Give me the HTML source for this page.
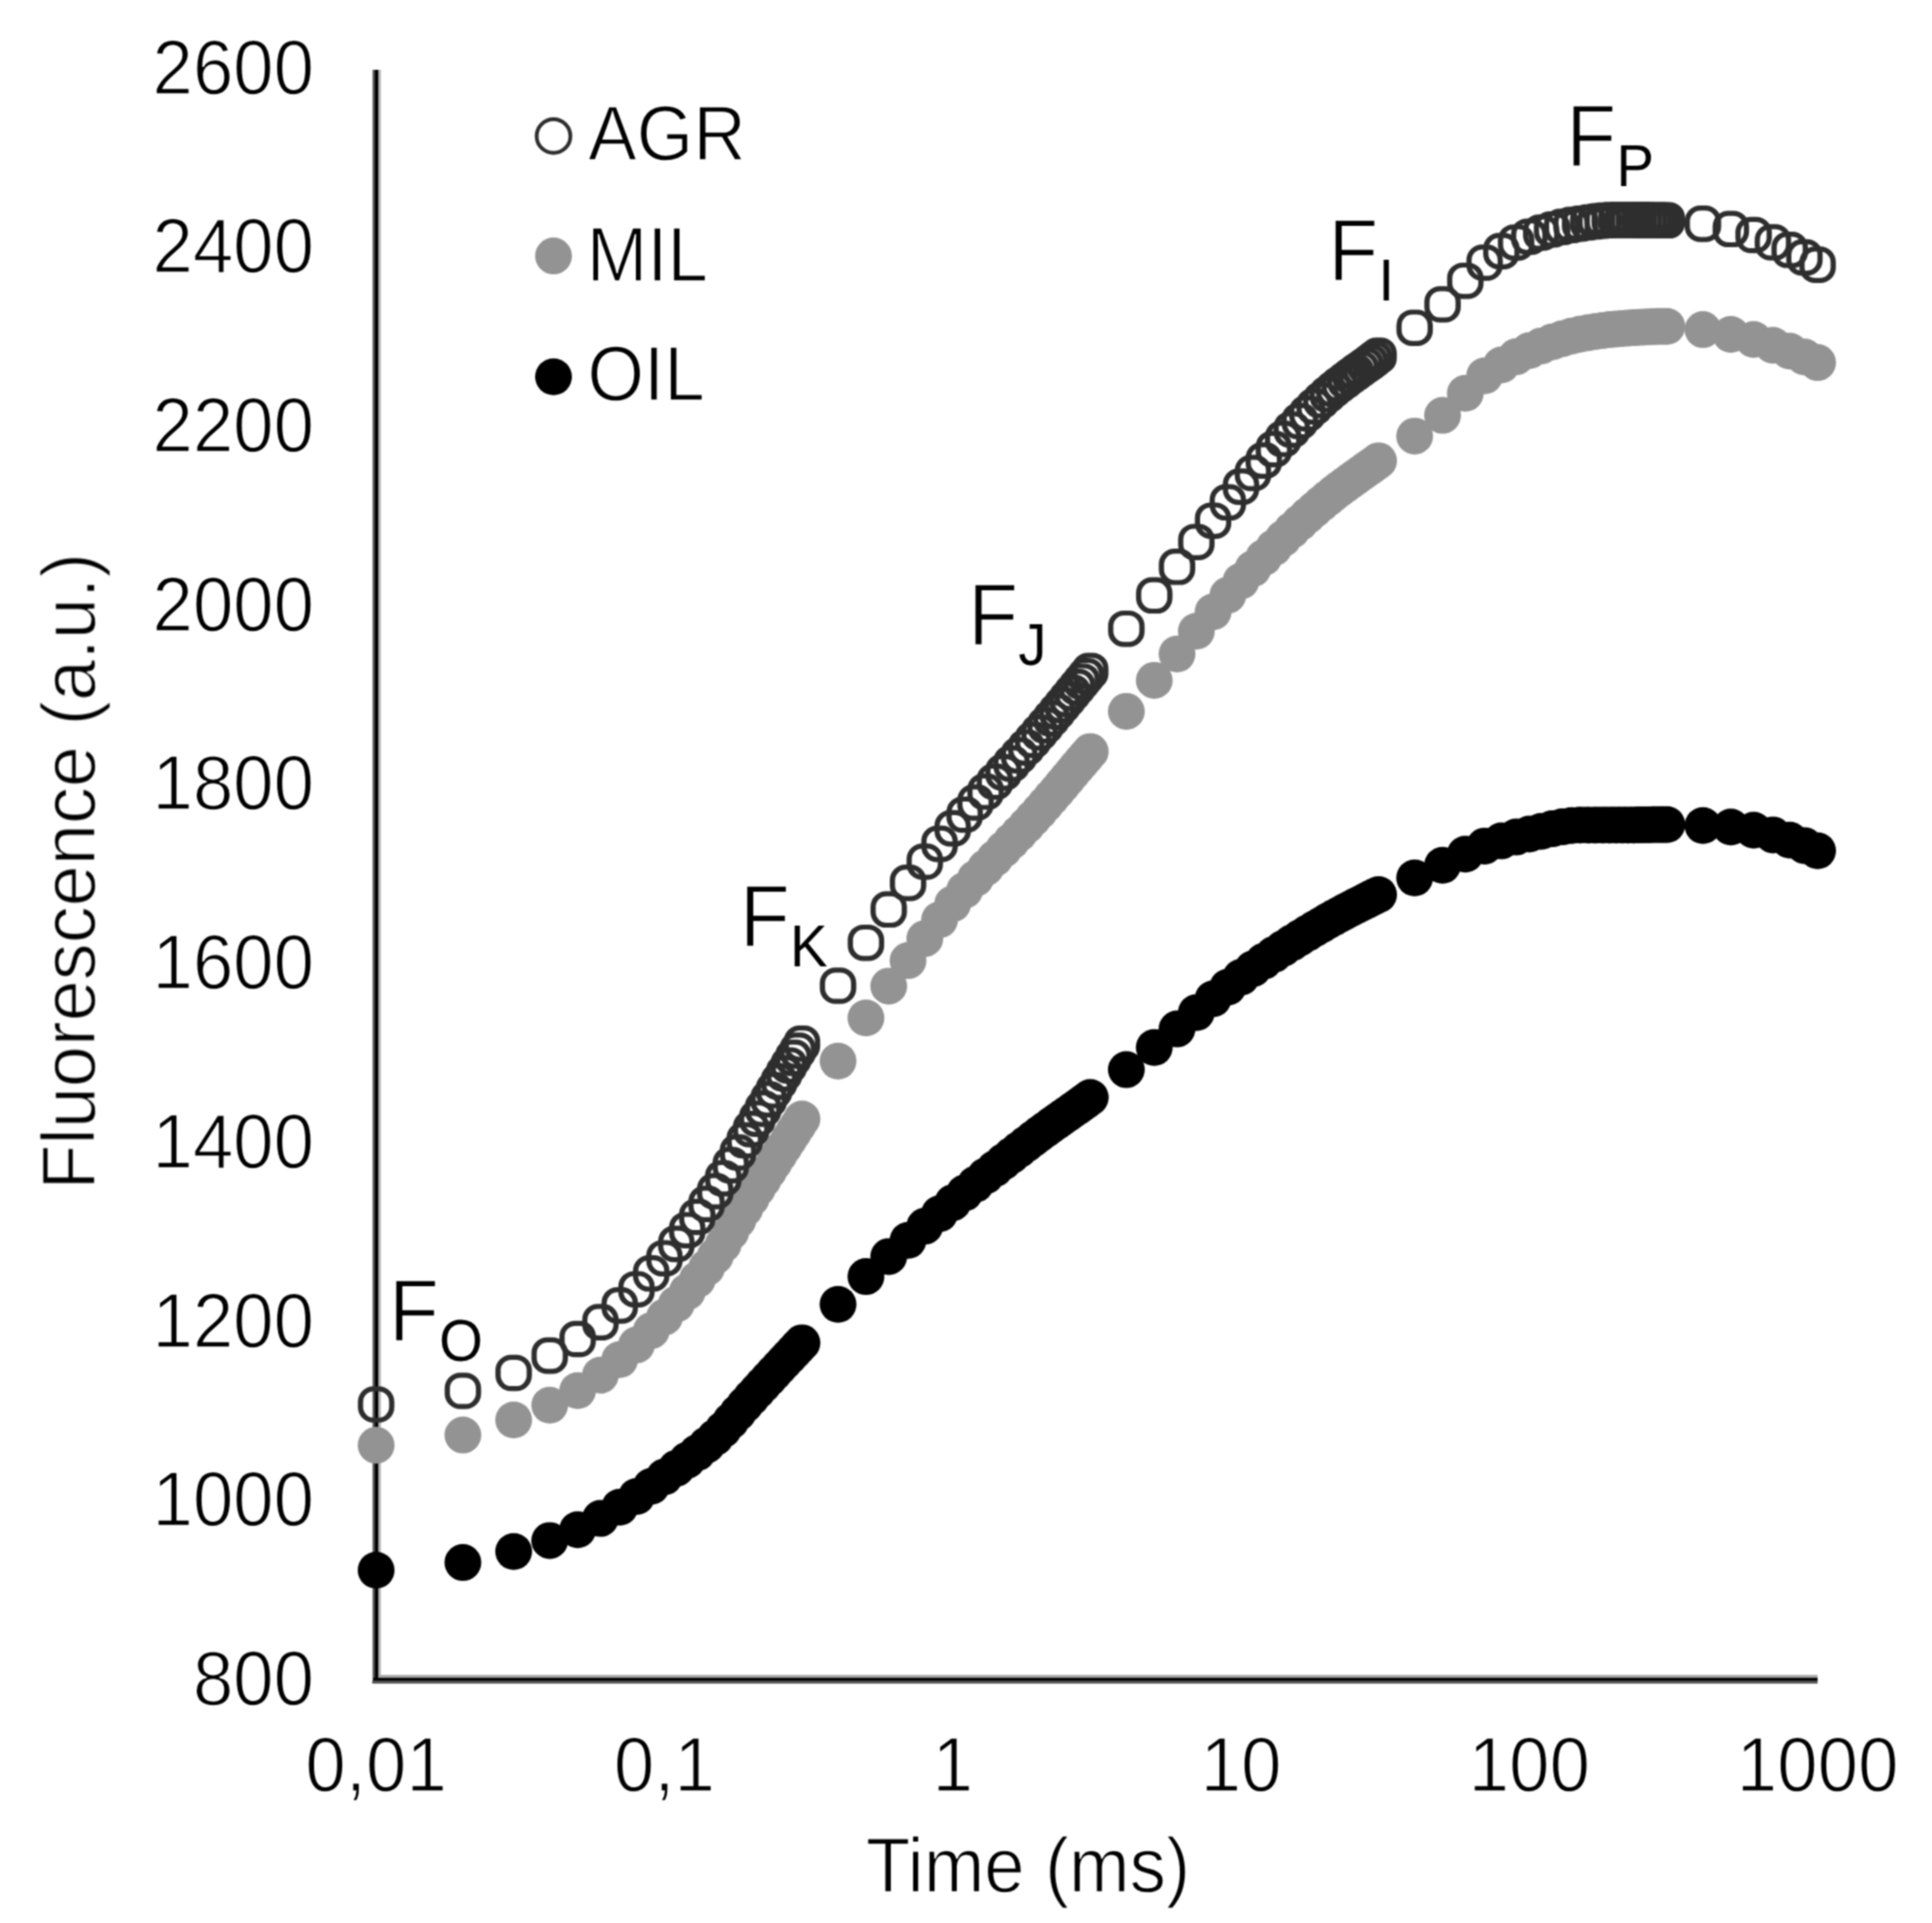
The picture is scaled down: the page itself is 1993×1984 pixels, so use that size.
<!DOCTYPE html>
<html><head><meta charset="utf-8"><title>OJIP fluorescence</title>
<style>html,body{margin:0;padding:0;background:#fff;}svg{display:block;}</style>
</head><body>
<svg xmlns="http://www.w3.org/2000/svg" width="1993" height="1984" viewBox="0 0 1993 1984">
<defs><filter id="soft" x="0" y="0" width="1993" height="1984" filterUnits="userSpaceOnUse" color-interpolation-filters="sRGB"><feConvolveMatrix order="3" kernelMatrix="1 2 1 2 4 2 1 2 1" divisor="16" edgeMode="duplicate"/></filter></defs>
<rect width="1993" height="1984" fill="#ffffff"/>
<g filter="url(#soft)">
<g font-family="'Liberation Sans', sans-serif" font-size="75" fill="#000" stroke="#fff" stroke-width="1.3">
<text transform="translate(324.0,1759.0) scale(1,1.06)" text-anchor="end">800</text>
<text transform="translate(324.0,1574.3) scale(1,1.06)" text-anchor="end">1000</text>
<text transform="translate(324.0,1389.6) scale(1,1.06)" text-anchor="end">1200</text>
<text transform="translate(324.0,1204.8) scale(1,1.06)" text-anchor="end">1400</text>
<text transform="translate(324.0,1020.1) scale(1,1.06)" text-anchor="end">1600</text>
<text transform="translate(324.0,835.4) scale(1,1.06)" text-anchor="end">1800</text>
<text transform="translate(324.0,650.7) scale(1,1.06)" text-anchor="end">2000</text>
<text transform="translate(324.0,466.0) scale(1,1.06)" text-anchor="end">2200</text>
<text transform="translate(324.0,281.2) scale(1,1.06)" text-anchor="end">2400</text>
<text transform="translate(324.0,96.5) scale(1,1.06)" text-anchor="end">2600</text>
<text transform="translate(388.0,1848.0) scale(1,1.06)" text-anchor="middle">0,01</text>
<text transform="translate(685.4,1848.0) scale(1,1.06)" text-anchor="middle">0,1</text>
<text transform="translate(982.8,1848.0) scale(1,1.06)" text-anchor="middle">1</text>
<text transform="translate(1280.2,1848.0) scale(1,1.06)" text-anchor="middle">10</text>
<text transform="translate(1577.6,1848.0) scale(1,1.06)" text-anchor="middle">100</text>
<text transform="translate(1875.0,1848.0) scale(1,1.06)" text-anchor="middle">1000</text>
<text transform="translate(1060.5,1952.0) scale(1,1.06)" text-anchor="middle">Time (ms)</text>
<text transform="translate(98,899) rotate(-90) scale(1.017,1.045)" text-anchor="middle">Fluorescence (a.u.)</text>
</g>
<g font-family="'Liberation Sans', sans-serif" font-size="75" fill="#000" stroke="#fff" stroke-width="1.3">
<text transform="translate(606.8,165.0) scale(1,1.06)">AGR</text>
<text transform="translate(605.2,290.0) scale(1,1.06)">MIL</text>
<text transform="translate(606.0,413.0) scale(1,1.06)">OIL</text>
</g>
<g font-family="'Liberation Sans', sans-serif" fill="#000" stroke="#fff" stroke-width="1.6">
<text transform="translate(401,1382.5) scale(1,1.06)" font-size="85">F<tspan font-size="58" dy="20" stroke="none">O</tspan></text>
<text transform="translate(763,976) scale(1,1.06)" font-size="85">F<tspan font-size="58" dy="20" stroke="none">K</tspan></text>
<text transform="translate(998.5,665) scale(1,1.06)" font-size="85">F<tspan font-size="58" dy="20" stroke="none">J</tspan></text>
<text transform="translate(1370,288.6) scale(1,1.06)" font-size="85">F<tspan font-size="58" dy="20" stroke="none">I</tspan></text>
<text transform="translate(1615.6,171.2) scale(1,1.06)" font-size="85">F<tspan font-size="58" dy="20" stroke="none">P</tspan></text>
</g>
<g shape-rendering="crispEdges">
<rect x="384" y="72" width="1" height="1665" fill="#9a9a9a"/>
<rect x="385" y="72" width="2" height="1665" fill="#444"/>
<rect x="387" y="72" width="3" height="1665" fill="#000"/>
<rect x="390" y="72" width="1" height="1659" fill="#888"/>
<rect x="391" y="72" width="2" height="1656" fill="#bbb"/>
<rect x="390.5" y="1728" width="1484.5" height="3" fill="#a8a8a8"/>
<rect x="385" y="1731" width="1490" height="3" fill="#050505"/>
<rect x="384" y="1734" width="1491" height="3" fill="#555"/>
</g>

<g fill="#939393">
<circle cx="388.0" cy="1491.1" r="19"/>
<circle cx="477.5" cy="1480.6" r="19"/>
<circle cx="529.9" cy="1465.0" r="19"/>
<circle cx="567.1" cy="1449.8" r="19"/>
<circle cx="595.9" cy="1434.8" r="19"/>
<circle cx="619.4" cy="1418.8" r="19"/>
<circle cx="639.3" cy="1402.8" r="19"/>
<circle cx="656.6" cy="1387.6" r="19"/>
<circle cx="671.8" cy="1372.9" r="19"/>
<circle cx="685.4" cy="1358.9" r="19"/>
<circle cx="697.7" cy="1345.5" r="19"/>
<circle cx="708.9" cy="1332.7" r="19"/>
<circle cx="719.3" cy="1320.2" r="19"/>
<circle cx="728.9" cy="1308.0" r="19"/>
<circle cx="737.8" cy="1296.0" r="19"/>
<circle cx="746.1" cy="1283.7" r="19"/>
<circle cx="753.9" cy="1271.1" r="19"/>
<circle cx="761.3" cy="1258.8" r="19"/>
<circle cx="768.3" cy="1247.1" r="19"/>
<circle cx="774.9" cy="1236.4" r="19"/>
<circle cx="781.2" cy="1226.4" r="19"/>
<circle cx="787.2" cy="1217.0" r="19"/>
<circle cx="793.0" cy="1208.0" r="19"/>
<circle cx="798.5" cy="1199.5" r="19"/>
<circle cx="803.7" cy="1191.3" r="19"/>
<circle cx="808.8" cy="1183.4" r="19"/>
<circle cx="813.7" cy="1175.8" r="19"/>
<circle cx="818.4" cy="1168.5" r="19"/>
<circle cx="822.9" cy="1161.4" r="19"/>
<circle cx="827.3" cy="1154.5" r="19"/>
<circle cx="864.5" cy="1094.7" r="19"/>
<circle cx="893.3" cy="1050.2" r="19"/>
<circle cx="916.8" cy="1017.4" r="19"/>
<circle cx="936.7" cy="991.1" r="19"/>
<circle cx="954.0" cy="968.4" r="19"/>
<circle cx="969.2" cy="949.0" r="19"/>
<circle cx="982.8" cy="932.5" r="19"/>
<circle cx="995.1" cy="918.5" r="19"/>
<circle cx="1006.3" cy="906.3" r="19"/>
<circle cx="1016.7" cy="895.4" r="19"/>
<circle cx="1026.3" cy="885.6" r="19"/>
<circle cx="1035.2" cy="876.4" r="19"/>
<circle cx="1043.5" cy="867.8" r="19"/>
<circle cx="1051.3" cy="859.7" r="19"/>
<circle cx="1058.7" cy="851.9" r="19"/>
<circle cx="1065.7" cy="844.3" r="19"/>
<circle cx="1072.3" cy="837.0" r="19"/>
<circle cx="1078.6" cy="829.8" r="19"/>
<circle cx="1084.6" cy="822.8" r="19"/>
<circle cx="1090.4" cy="816.1" r="19"/>
<circle cx="1095.9" cy="809.5" r="19"/>
<circle cx="1101.1" cy="803.2" r="19"/>
<circle cx="1106.2" cy="797.1" r="19"/>
<circle cx="1111.1" cy="791.3" r="19"/>
<circle cx="1115.8" cy="785.8" r="19"/>
<circle cx="1120.3" cy="780.5" r="19"/>
<circle cx="1124.7" cy="775.4" r="19"/>
<circle cx="1161.9" cy="733.9" r="19"/>
<circle cx="1190.7" cy="701.9" r="19"/>
<circle cx="1214.2" cy="674.7" r="19"/>
<circle cx="1234.1" cy="651.2" r="19"/>
<circle cx="1251.4" cy="631.2" r="19"/>
<circle cx="1266.6" cy="614.1" r="19"/>
<circle cx="1280.2" cy="599.5" r="19"/>
<circle cx="1292.5" cy="586.8" r="19"/>
<circle cx="1303.7" cy="575.3" r="19"/>
<circle cx="1314.1" cy="565.0" r="19"/>
<circle cx="1323.7" cy="555.6" r="19"/>
<circle cx="1332.6" cy="547.0" r="19"/>
<circle cx="1340.9" cy="539.2" r="19"/>
<circle cx="1348.7" cy="532.1" r="19"/>
<circle cx="1356.1" cy="525.6" r="19"/>
<circle cx="1363.1" cy="519.5" r="19"/>
<circle cx="1369.7" cy="514.0" r="19"/>
<circle cx="1376.0" cy="508.9" r="19"/>
<circle cx="1382.0" cy="504.3" r="19"/>
<circle cx="1387.8" cy="500.0" r="19"/>
<circle cx="1393.3" cy="496.0" r="19"/>
<circle cx="1398.5" cy="492.2" r="19"/>
<circle cx="1403.6" cy="488.6" r="19"/>
<circle cx="1408.5" cy="485.1" r="19"/>
<circle cx="1413.2" cy="481.8" r="19"/>
<circle cx="1417.7" cy="478.6" r="19"/>
<circle cx="1422.1" cy="475.4" r="19"/>
<circle cx="1459.3" cy="449.9" r="19"/>
<circle cx="1488.1" cy="428.6" r="19"/>
<circle cx="1511.6" cy="405.7" r="19"/>
<circle cx="1531.5" cy="387.8" r="19"/>
<circle cx="1548.8" cy="376.5" r="19"/>
<circle cx="1564.0" cy="368.1" r="19"/>
<circle cx="1577.6" cy="361.8" r="19"/>
<circle cx="1589.9" cy="356.9" r="19"/>
<circle cx="1601.1" cy="352.8" r="19"/>
<circle cx="1611.5" cy="349.5" r="19"/>
<circle cx="1621.1" cy="346.8" r="19"/>
<circle cx="1630.0" cy="344.8" r="19"/>
<circle cx="1638.3" cy="343.3" r="19"/>
<circle cx="1646.1" cy="342.0" r="19"/>
<circle cx="1653.5" cy="340.9" r="19"/>
<circle cx="1660.5" cy="340.1" r="19"/>
<circle cx="1667.1" cy="339.5" r="19"/>
<circle cx="1673.4" cy="339.0" r="19"/>
<circle cx="1679.4" cy="338.5" r="19"/>
<circle cx="1685.2" cy="338.1" r="19"/>
<circle cx="1690.7" cy="337.7" r="19"/>
<circle cx="1695.9" cy="337.4" r="19"/>
<circle cx="1701.0" cy="337.2" r="19"/>
<circle cx="1705.9" cy="337.0" r="19"/>
<circle cx="1710.6" cy="336.8" r="19"/>
<circle cx="1715.1" cy="336.8" r="19"/>
<circle cx="1719.5" cy="336.7" r="19"/>
<circle cx="1756.7" cy="340.1" r="19"/>
<circle cx="1785.5" cy="345.0" r="19"/>
<circle cx="1809.0" cy="350.3" r="19"/>
<circle cx="1828.9" cy="356.2" r="19"/>
<circle cx="1846.2" cy="362.3" r="19"/>
<circle cx="1861.4" cy="368.3" r="19"/>
<circle cx="1875.0" cy="374.1" r="19"/>
</g>
<g fill="#000">
<circle cx="388.0" cy="1620.0" r="19"/>
<circle cx="477.5" cy="1612.1" r="19"/>
<circle cx="529.9" cy="1600.7" r="19"/>
<circle cx="567.1" cy="1589.4" r="19"/>
<circle cx="595.9" cy="1578.3" r="19"/>
<circle cx="619.4" cy="1566.6" r="19"/>
<circle cx="639.3" cy="1555.0" r="19"/>
<circle cx="656.6" cy="1544.0" r="19"/>
<circle cx="671.8" cy="1533.5" r="19"/>
<circle cx="685.4" cy="1523.7" r="19"/>
<circle cx="697.7" cy="1514.9" r="19"/>
<circle cx="708.9" cy="1506.6" r="19"/>
<circle cx="719.3" cy="1498.7" r="19"/>
<circle cx="728.9" cy="1490.9" r="19"/>
<circle cx="737.8" cy="1483.0" r="19"/>
<circle cx="746.1" cy="1474.7" r="19"/>
<circle cx="753.9" cy="1466.0" r="19"/>
<circle cx="761.3" cy="1457.5" r="19"/>
<circle cx="768.3" cy="1449.4" r="19"/>
<circle cx="774.9" cy="1442.0" r="19"/>
<circle cx="781.2" cy="1435.1" r="19"/>
<circle cx="787.2" cy="1428.5" r="19"/>
<circle cx="793.0" cy="1422.3" r="19"/>
<circle cx="798.5" cy="1416.3" r="19"/>
<circle cx="803.7" cy="1410.6" r="19"/>
<circle cx="808.8" cy="1405.1" r="19"/>
<circle cx="813.7" cy="1399.9" r="19"/>
<circle cx="818.4" cy="1394.9" r="19"/>
<circle cx="822.9" cy="1390.0" r="19"/>
<circle cx="827.3" cy="1385.4" r="19"/>
<circle cx="864.5" cy="1345.8" r="19"/>
<circle cx="893.3" cy="1317.1" r="19"/>
<circle cx="916.8" cy="1296.4" r="19"/>
<circle cx="936.7" cy="1279.8" r="19"/>
<circle cx="954.0" cy="1265.1" r="19"/>
<circle cx="969.2" cy="1252.2" r="19"/>
<circle cx="982.8" cy="1240.9" r="19"/>
<circle cx="995.1" cy="1230.8" r="19"/>
<circle cx="1006.3" cy="1221.7" r="19"/>
<circle cx="1016.7" cy="1213.3" r="19"/>
<circle cx="1026.3" cy="1205.7" r="19"/>
<circle cx="1035.2" cy="1198.6" r="19"/>
<circle cx="1043.5" cy="1192.1" r="19"/>
<circle cx="1051.3" cy="1186.0" r="19"/>
<circle cx="1058.7" cy="1180.3" r="19"/>
<circle cx="1065.7" cy="1174.9" r="19"/>
<circle cx="1072.3" cy="1169.9" r="19"/>
<circle cx="1078.6" cy="1165.3" r="19"/>
<circle cx="1084.6" cy="1160.9" r="19"/>
<circle cx="1090.4" cy="1156.8" r="19"/>
<circle cx="1095.9" cy="1152.9" r="19"/>
<circle cx="1101.1" cy="1149.2" r="19"/>
<circle cx="1106.2" cy="1145.6" r="19"/>
<circle cx="1111.1" cy="1142.2" r="19"/>
<circle cx="1115.8" cy="1138.8" r="19"/>
<circle cx="1120.3" cy="1135.5" r="19"/>
<circle cx="1124.7" cy="1132.2" r="19"/>
<circle cx="1161.9" cy="1103.6" r="19"/>
<circle cx="1190.7" cy="1080.8" r="19"/>
<circle cx="1214.2" cy="1061.6" r="19"/>
<circle cx="1234.1" cy="1044.8" r="19"/>
<circle cx="1251.4" cy="1030.5" r="19"/>
<circle cx="1266.6" cy="1018.5" r="19"/>
<circle cx="1280.2" cy="1008.3" r="19"/>
<circle cx="1292.5" cy="999.5" r="19"/>
<circle cx="1303.7" cy="991.8" r="19"/>
<circle cx="1314.1" cy="984.8" r="19"/>
<circle cx="1323.7" cy="978.5" r="19"/>
<circle cx="1332.6" cy="972.8" r="19"/>
<circle cx="1340.9" cy="967.6" r="19"/>
<circle cx="1348.7" cy="962.7" r="19"/>
<circle cx="1356.1" cy="958.3" r="19"/>
<circle cx="1363.1" cy="954.2" r="19"/>
<circle cx="1369.7" cy="950.3" r="19"/>
<circle cx="1376.0" cy="946.8" r="19"/>
<circle cx="1382.0" cy="943.5" r="19"/>
<circle cx="1387.8" cy="940.4" r="19"/>
<circle cx="1393.3" cy="937.5" r="19"/>
<circle cx="1398.5" cy="934.8" r="19"/>
<circle cx="1403.6" cy="932.2" r="19"/>
<circle cx="1408.5" cy="929.7" r="19"/>
<circle cx="1413.2" cy="927.4" r="19"/>
<circle cx="1417.7" cy="925.1" r="19"/>
<circle cx="1422.1" cy="923.0" r="19"/>
<circle cx="1459.3" cy="905.7" r="19"/>
<circle cx="1488.1" cy="892.7" r="19"/>
<circle cx="1511.6" cy="881.3" r="19"/>
<circle cx="1531.5" cy="872.9" r="19"/>
<circle cx="1548.8" cy="867.6" r="19"/>
<circle cx="1564.0" cy="863.6" r="19"/>
<circle cx="1577.6" cy="860.5" r="19"/>
<circle cx="1589.9" cy="857.7" r="19"/>
<circle cx="1601.1" cy="855.1" r="19"/>
<circle cx="1611.5" cy="853.1" r="19"/>
<circle cx="1621.1" cy="851.8" r="19"/>
<circle cx="1630.0" cy="851.3" r="19"/>
<circle cx="1638.3" cy="851.3" r="19"/>
<circle cx="1646.1" cy="851.3" r="19"/>
<circle cx="1653.5" cy="851.3" r="19"/>
<circle cx="1660.5" cy="851.3" r="19"/>
<circle cx="1667.1" cy="851.3" r="19"/>
<circle cx="1673.4" cy="851.3" r="19"/>
<circle cx="1679.4" cy="851.3" r="19"/>
<circle cx="1685.2" cy="851.2" r="19"/>
<circle cx="1690.7" cy="851.1" r="19"/>
<circle cx="1695.9" cy="851.0" r="19"/>
<circle cx="1701.0" cy="850.9" r="19"/>
<circle cx="1705.9" cy="850.8" r="19"/>
<circle cx="1710.6" cy="850.8" r="19"/>
<circle cx="1715.1" cy="850.7" r="19"/>
<circle cx="1719.5" cy="850.7" r="19"/>
<circle cx="1756.7" cy="851.7" r="19"/>
<circle cx="1785.5" cy="853.3" r="19"/>
<circle cx="1809.0" cy="856.5" r="19"/>
<circle cx="1828.9" cy="861.4" r="19"/>
<circle cx="1846.2" cy="866.8" r="19"/>
<circle cx="1861.4" cy="872.4" r="19"/>
<circle cx="1875.0" cy="877.8" r="19"/>
</g>
<defs><path id="ring" d="M-2.8000000000000007,-18.8H2.8000000000000007A16.0,16.0 0 0 1 18.8,-2.8000000000000007V2.8000000000000007A16.0,16.0 0 0 1 2.8000000000000007,18.8H-2.8000000000000007A16.0,16.0 0 0 1 -18.8,2.8000000000000007V-2.8000000000000007A16.0,16.0 0 0 1 -2.8000000000000007,-18.8ZM-2.4000000000000004,-13.6H2.4000000000000004A11.0,11.0 0 0 1 13.4,-2.5999999999999996V2.5999999999999996A11.0,11.0 0 0 1 2.4000000000000004,13.6H-2.4000000000000004A11.0,11.0 0 0 1 -13.4,2.5999999999999996V-2.5999999999999996A11.0,11.0 0 0 1 -2.4000000000000004,-13.6Z" fill="#2e2e2e" fill-rule="evenodd"/></defs>
<g>
<use href="#ring" x="388.0" y="1449.0"/>
<use href="#ring" x="477.5" y="1435.0"/>
<use href="#ring" x="529.9" y="1416.5"/>
<use href="#ring" x="567.1" y="1398.6"/>
<use href="#ring" x="595.9" y="1381.5"/>
<use href="#ring" x="619.4" y="1364.1"/>
<use href="#ring" x="639.3" y="1346.9"/>
<use href="#ring" x="656.6" y="1330.2"/>
<use href="#ring" x="671.8" y="1313.8"/>
<use href="#ring" x="685.4" y="1298.2"/>
<use href="#ring" x="697.7" y="1283.4"/>
<use href="#ring" x="708.9" y="1269.2"/>
<use href="#ring" x="719.3" y="1255.5"/>
<use href="#ring" x="728.9" y="1242.1"/>
<use href="#ring" x="737.8" y="1229.0"/>
<use href="#ring" x="746.1" y="1215.7"/>
<use href="#ring" x="753.9" y="1202.1"/>
<use href="#ring" x="761.3" y="1189.0"/>
<use href="#ring" x="768.3" y="1176.5"/>
<use href="#ring" x="774.9" y="1164.9"/>
<use href="#ring" x="781.2" y="1154.2"/>
<use href="#ring" x="787.2" y="1143.9"/>
<use href="#ring" x="793.0" y="1134.2"/>
<use href="#ring" x="798.5" y="1124.8"/>
<use href="#ring" x="803.7" y="1115.9"/>
<use href="#ring" x="808.8" y="1107.4"/>
<use href="#ring" x="813.7" y="1099.2"/>
<use href="#ring" x="818.4" y="1091.4"/>
<use href="#ring" x="822.9" y="1084.0"/>
<use href="#ring" x="827.3" y="1076.8"/>
<use href="#ring" x="864.5" y="1017.0"/>
<use href="#ring" x="893.3" y="972.7"/>
<use href="#ring" x="916.8" y="938.3"/>
<use href="#ring" x="936.7" y="910.9"/>
<use href="#ring" x="954.0" y="889.0"/>
<use href="#ring" x="969.2" y="870.6"/>
<use href="#ring" x="982.8" y="854.6"/>
<use href="#ring" x="995.1" y="840.5"/>
<use href="#ring" x="1006.3" y="828.0"/>
<use href="#ring" x="1016.7" y="816.8"/>
<use href="#ring" x="1026.3" y="806.5"/>
<use href="#ring" x="1035.2" y="796.9"/>
<use href="#ring" x="1043.5" y="787.9"/>
<use href="#ring" x="1051.3" y="779.3"/>
<use href="#ring" x="1058.7" y="771.2"/>
<use href="#ring" x="1065.7" y="763.3"/>
<use href="#ring" x="1072.3" y="755.7"/>
<use href="#ring" x="1078.6" y="748.3"/>
<use href="#ring" x="1084.6" y="741.2"/>
<use href="#ring" x="1090.4" y="734.2"/>
<use href="#ring" x="1095.9" y="727.5"/>
<use href="#ring" x="1101.1" y="721.1"/>
<use href="#ring" x="1106.2" y="714.9"/>
<use href="#ring" x="1111.1" y="708.9"/>
<use href="#ring" x="1115.8" y="703.2"/>
<use href="#ring" x="1120.3" y="697.7"/>
<use href="#ring" x="1124.7" y="692.4"/>
<use href="#ring" x="1161.9" y="648.7"/>
<use href="#ring" x="1190.7" y="614.3"/>
<use href="#ring" x="1214.2" y="584.8"/>
<use href="#ring" x="1234.1" y="559.2"/>
<use href="#ring" x="1251.4" y="537.2"/>
<use href="#ring" x="1266.6" y="518.3"/>
<use href="#ring" x="1280.2" y="502.1"/>
<use href="#ring" x="1292.5" y="488.0"/>
<use href="#ring" x="1303.7" y="475.1"/>
<use href="#ring" x="1314.1" y="463.4"/>
<use href="#ring" x="1323.7" y="452.8"/>
<use href="#ring" x="1332.6" y="443.2"/>
<use href="#ring" x="1340.9" y="434.5"/>
<use href="#ring" x="1348.7" y="426.5"/>
<use href="#ring" x="1356.1" y="419.3"/>
<use href="#ring" x="1363.1" y="412.8"/>
<use href="#ring" x="1369.7" y="406.8"/>
<use href="#ring" x="1376.0" y="401.5"/>
<use href="#ring" x="1382.0" y="396.7"/>
<use href="#ring" x="1387.8" y="392.3"/>
<use href="#ring" x="1393.3" y="388.2"/>
<use href="#ring" x="1398.5" y="384.4"/>
<use href="#ring" x="1403.6" y="380.7"/>
<use href="#ring" x="1408.5" y="377.2"/>
<use href="#ring" x="1413.2" y="373.8"/>
<use href="#ring" x="1417.7" y="370.4"/>
<use href="#ring" x="1422.1" y="367.0"/>
<use href="#ring" x="1459.3" y="338.2"/>
<use href="#ring" x="1488.1" y="314.0"/>
<use href="#ring" x="1511.6" y="289.7"/>
<use href="#ring" x="1531.5" y="271.0"/>
<use href="#ring" x="1548.8" y="259.1"/>
<use href="#ring" x="1564.0" y="250.2"/>
<use href="#ring" x="1577.6" y="244.2"/>
<use href="#ring" x="1589.9" y="240.0"/>
<use href="#ring" x="1601.1" y="236.7"/>
<use href="#ring" x="1611.5" y="234.1"/>
<use href="#ring" x="1621.1" y="232.1"/>
<use href="#ring" x="1630.0" y="230.7"/>
<use href="#ring" x="1638.3" y="229.5"/>
<use href="#ring" x="1646.1" y="228.4"/>
<use href="#ring" x="1653.5" y="227.6"/>
<use href="#ring" x="1660.5" y="227.1"/>
<use href="#ring" x="1667.1" y="227.0"/>
<use href="#ring" x="1673.4" y="227.0"/>
<use href="#ring" x="1679.4" y="227.0"/>
<use href="#ring" x="1685.2" y="227.0"/>
<use href="#ring" x="1690.7" y="227.1"/>
<use href="#ring" x="1695.9" y="227.1"/>
<use href="#ring" x="1701.0" y="227.1"/>
<use href="#ring" x="1705.9" y="227.2"/>
<use href="#ring" x="1710.6" y="227.2"/>
<use href="#ring" x="1715.1" y="227.3"/>
<use href="#ring" x="1719.5" y="227.3"/>
<use href="#ring" x="1756.7" y="230.9"/>
<use href="#ring" x="1785.5" y="236.3"/>
<use href="#ring" x="1809.0" y="242.5"/>
<use href="#ring" x="1828.9" y="250.0"/>
<use href="#ring" x="1846.2" y="257.8"/>
<use href="#ring" x="1861.4" y="265.6"/>
<use href="#ring" x="1875.0" y="273.1"/>
</g>
<g>
<circle cx="571" cy="140.4" r="17.4" fill="none" stroke="#2e2e2e" stroke-width="3.9"/>
<circle cx="571" cy="264.1" r="19" fill="#939393"/>
<circle cx="571" cy="388.7" r="19" fill="#000"/>
</g>


</g>
</svg>
</body></html>
